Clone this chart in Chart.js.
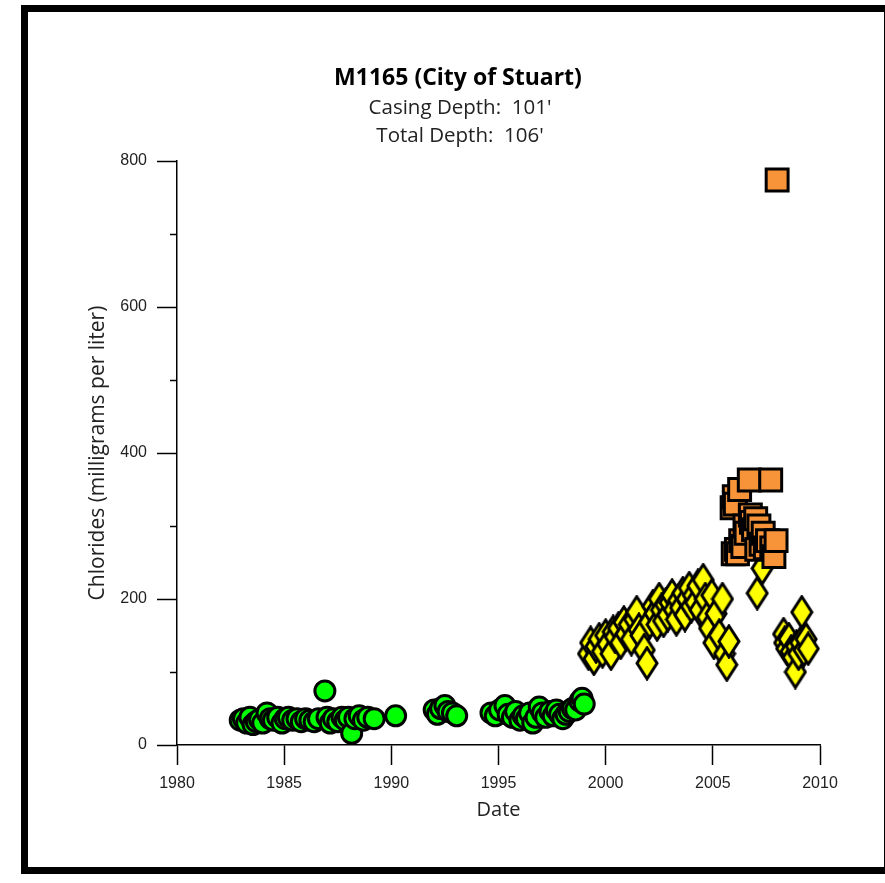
<!DOCTYPE html>
<html>
<head>
<meta charset="utf-8">
<title>M1165 (City of Stuart)</title>
<script src="https://cdn.jsdelivr.net/npm/chart.js@4"></script>
<style>
  body { margin: 0; background: #fff; }
  #wrap { position: relative; width: 885px; height: 883px; overflow: hidden; }
  #frame {
    position: absolute; left: 21px; top: 5px; width: 870px; height: 869px;
    box-sizing: border-box; border: 7px solid #000;
  }
  canvas { position: absolute; left: 0; top: 0; }
</style>
</head>
<body>
<div id="wrap">
  <div id="frame"></div>
  <canvas id="chartChlorides" width="885" height="883"></canvas>
</div>
<script>
// chlorides, green circles (1983 - 1999)
const greenDates = [
  1982.95, 1983.1, 1983.25, 1983.4, 1983.55, 1983.7, 1983.85, 1984.0, 1984.2, 1984.35,
  1984.5, 1984.7, 1984.9, 1985.05, 1985.2, 1985.4, 1985.6, 1985.8, 1986.0, 1986.2,
  1986.4, 1986.6, 1986.9, 1987.0, 1987.15, 1987.3, 1987.5, 1987.7, 1987.85, 1988.0,
  1988.15, 1988.3, 1988.5, 1988.7, 1988.9, 1989.2, 1990.2,
  1992.0, 1992.15, 1992.3, 1992.5, 1992.65, 1992.85, 1993.05,
  1994.65, 1994.85, 1995.05, 1995.3, 1995.45, 1995.65, 1995.8, 1996.0, 1996.15, 1996.3,
  1996.45, 1996.6, 1996.75, 1996.9, 1997.05, 1997.2, 1997.4, 1997.55, 1997.7, 1997.85,
  1998.0, 1998.15, 1998.3, 1998.45, 1998.6, 1998.8, 1998.9, 1999.0
];
const greenValues = [
  34, 36, 30, 38, 28, 32, 35, 30, 44, 36,
  34, 38, 30, 36, 38, 34, 36, 32, 36, 34,
  32, 36, 74, 38, 30, 36, 32, 38, 34, 38,
  16, 36, 40, 34, 38, 36, 40,
  48, 42, 50, 54, 46, 44, 40,
  44, 40, 48, 54, 42, 38, 46, 34, 40, 36,
  44, 30, 38, 52, 44, 38, 46, 40, 48, 42,
  36, 42, 46, 50, 48, 60, 64, 56
];

// chlorides, yellow diamonds (1999 - 2009)
const yellowDates = [
  1999.2, 1999.3, 1999.45, 1999.55, 1999.7, 1999.85, 2000.0, 2000.1, 2000.25, 2000.35,
  2000.45, 2000.6, 2000.7, 2000.85, 2000.95, 2001.1, 2001.2, 2001.35, 2001.45, 2001.55,
  2001.65, 2001.8, 2001.93, 2002.05, 2002.2, 2002.3, 2002.4, 2002.5, 2002.6, 2002.7,
  2002.8, 2002.9, 2003.0, 2003.1, 2003.2, 2003.3, 2003.4, 2003.5, 2003.6, 2003.7,
  2003.8, 2003.9, 2004.0, 2004.1, 2004.2, 2004.3, 2004.4, 2004.55, 2004.65, 2004.75,
  2004.85, 2004.95, 2005.05, 2005.15, 2005.3, 2005.45, 2005.55, 2005.65, 2005.75,
  2007.07, 2007.3,
  2008.3, 2008.35, 2008.45, 2008.55, 2008.65, 2008.75, 2008.85, 2008.9, 2009.0, 2009.1,
  2009.15, 2009.25, 2009.35, 2009.45
];
const yellowValues = [
  125, 140, 118, 135, 145, 128, 150, 138, 125, 155,
  148, 160, 140, 168, 152, 165, 145, 172, 182, 158,
  150, 130, 112, 168, 190, 180, 165, 200, 185, 170,
  192, 178, 195, 205, 185, 172, 198, 188, 208, 178,
  200, 215, 190, 205, 195, 218, 185, 226, 200, 175,
  160, 205, 140, 180, 150, 200, 125, 110, 142,
  208, 242,
  152, 140, 132, 145, 128, 120, 100, 135, 125, 140,
  182, 130, 145, 132
];

// chlorides, orange squares (2006 - 2008)
const orangeDates = [
  2005.9, 2005.95, 2006.0, 2006.05, 2006.1, 2006.15, 2006.25, 2006.3, 2006.4, 2006.5,
  2006.55, 2006.7, 2006.75, 2006.8, 2006.9, 2007.0, 2007.05, 2007.15, 2007.25, 2007.35,
  2007.45, 2007.55, 2007.7, 2007.75, 2007.85, 2007.95, 2008.0
];
const orangeValues = [
  325, 262, 340, 330, 268, 262, 350, 280, 272, 300,
  290, 363, 315, 305, 295, 310, 268, 300, 275, 290,
  270, 280, 363, 270, 258, 280, 774
];

const xTicks = [1980, 1985, 1990, 1995, 2000, 2005, 2010];
const yTicks = [0, 200, 400, 600, 800];
const yMinorTicks = [100, 300, 500, 700];
const titleLines = ["M1165 (City of Stuart)", "Casing Depth:  101'", "Total Depth:  106'"];

const toPoints = (dates, values) => dates.map((d, i) => ({ x: d, y: values[i] }));

// yellow diamond is taller than wide, so draw it once on a small canvas
function diamond(w, h) {
  const c = document.createElement("canvas");
  c.width = w;
  c.height = h;
  const g = c.getContext("2d");
  g.beginPath();
  g.moveTo(w / 2, 2);
  g.lineTo(w - 2, h / 2);
  g.lineTo(w / 2, h - 2);
  g.lineTo(2, h / 2);
  g.closePath();
  g.fillStyle = "#ffff00";
  g.fill();
  g.lineWidth = 3;
  g.strokeStyle = "#000";
  g.stroke();
  return c;
}

const minorTicks = {
  id: "minorTicks",
  afterDraw(chart) {
    const y = chart.scales.y, ctx = chart.ctx;
    ctx.save();
    ctx.strokeStyle = "#000";
    ctx.lineWidth = 1.5;
    yMinorTicks.forEach((v) => {
      const p = Math.round(y.getPixelForValue(v)) + 0.5;
      ctx.beginPath();
      ctx.moveTo(y.right - 7, p);
      ctx.lineTo(y.right, p);
      ctx.stroke();
    });
    ctx.restore();
  },
};

const headTitle = {
  id: "headTitle",
  afterDraw(chart) {
    const ctx = chart.ctx;
    ctx.save();
    ctx.textAlign = "center";
    ctx.textBaseline = "middle";
    ctx.fillStyle = "#000";
    ctx.font = "bold 23px 'Open Sans'";
    ctx.fillText(titleLines[0], 458, 78);
    ctx.fillStyle = "#222";
    ctx.font = "20.5px 'Open Sans'";
    ctx.fillText(titleLines[1], 460, 108);
    ctx.fillText(titleLines[2], 460, 136);
    ctx.restore();
  },
};

const ctx = document.getElementById("chartChlorides").getContext("2d");
const myChart = new Chart(ctx, {
  type: "scatter",
  data: {
    datasets: [
      {
        label: "green",
        data: toPoints(greenDates, greenValues),
        pointStyle: "circle",
        pointRadius: 10,
        pointHoverRadius: 10,
        backgroundColor: "#00ff00",
        borderColor: "#000",
        borderWidth: 3,
        order: 3,
      },
      {
        label: "yellow",
        data: toPoints(yellowDates, yellowValues),
        pointStyle: diamond(24, 35),
        backgroundColor: "#ffff00",
        borderColor: "#000",
        order: 2,
      },
      {
        label: "orange",
        data: toPoints(orangeDates, orangeValues),
        pointStyle: "rect",
        pointRadius: 15.5,
        pointHoverRadius: 15.5,
        backgroundColor: "#f7943a",
        borderColor: "#000",
        borderWidth: 3,
        order: 1,
      },
    ],
  },
  options: {
    responsive: false,
    animation: false,
    devicePixelRatio: 1,
    clip: false,
    layout: { padding: { left: 80, right: 65, top: 161, bottom: 50 } },
    plugins: {
      legend: { display: false },
      tooltip: { enabled: false },
      title: { display: false },
    },
    scales: {
      x: {
        type: "linear",
        min: xTicks[0],
        max: xTicks[xTicks.length - 1],
        afterBuildTicks: (s) => { s.ticks = xTicks.map((v) => ({ value: v })); },
        afterFit: (s) => { s.height = 88; },
        ticks: {
          padding: 9,
          color: "#222",
          font: { family: "'Liberation Sans', Arial", size: 16 },
          callback: (v) => String(v),
        },
        grid: { drawOnChartArea: false, tickLength: 20, tickColor: "#000", tickWidth: 1.5 },
        border: { color: "#000", width: 1.5 },
        title: {
          display: true,
          text: "Date",
          color: "#222",
          font: { family: "'Open Sans'", size: 20 },
          padding: { top: 0, bottom: 11 },
        },
      },
      y: {
        min: yTicks[0],
        max: yTicks[yTicks.length - 1],
        afterBuildTicks: (s) => { s.ticks = yTicks.map((v) => ({ value: v })); },
        afterFit: (s) => { s.width = 97; },
        ticks: {
          padding: 10,
          color: "#222",
          font: { family: "'Liberation Sans', Arial", size: 16 },
        },
        grid: { drawOnChartArea: false, tickLength: 20, tickColor: "#000", tickWidth: 1.5 },
        border: { color: "#000", width: 1.5 },
        title: {
          display: true,
          text: "Chlorides (milligrams per liter)",
          color: "#222",
          font: { family: "'Open Sans'", size: 21 },
          padding: { top: 5, bottom: 0 },
        },
      },
    },
  },
  plugins: [minorTicks, headTitle],
});
</script>
</body>
</html>
